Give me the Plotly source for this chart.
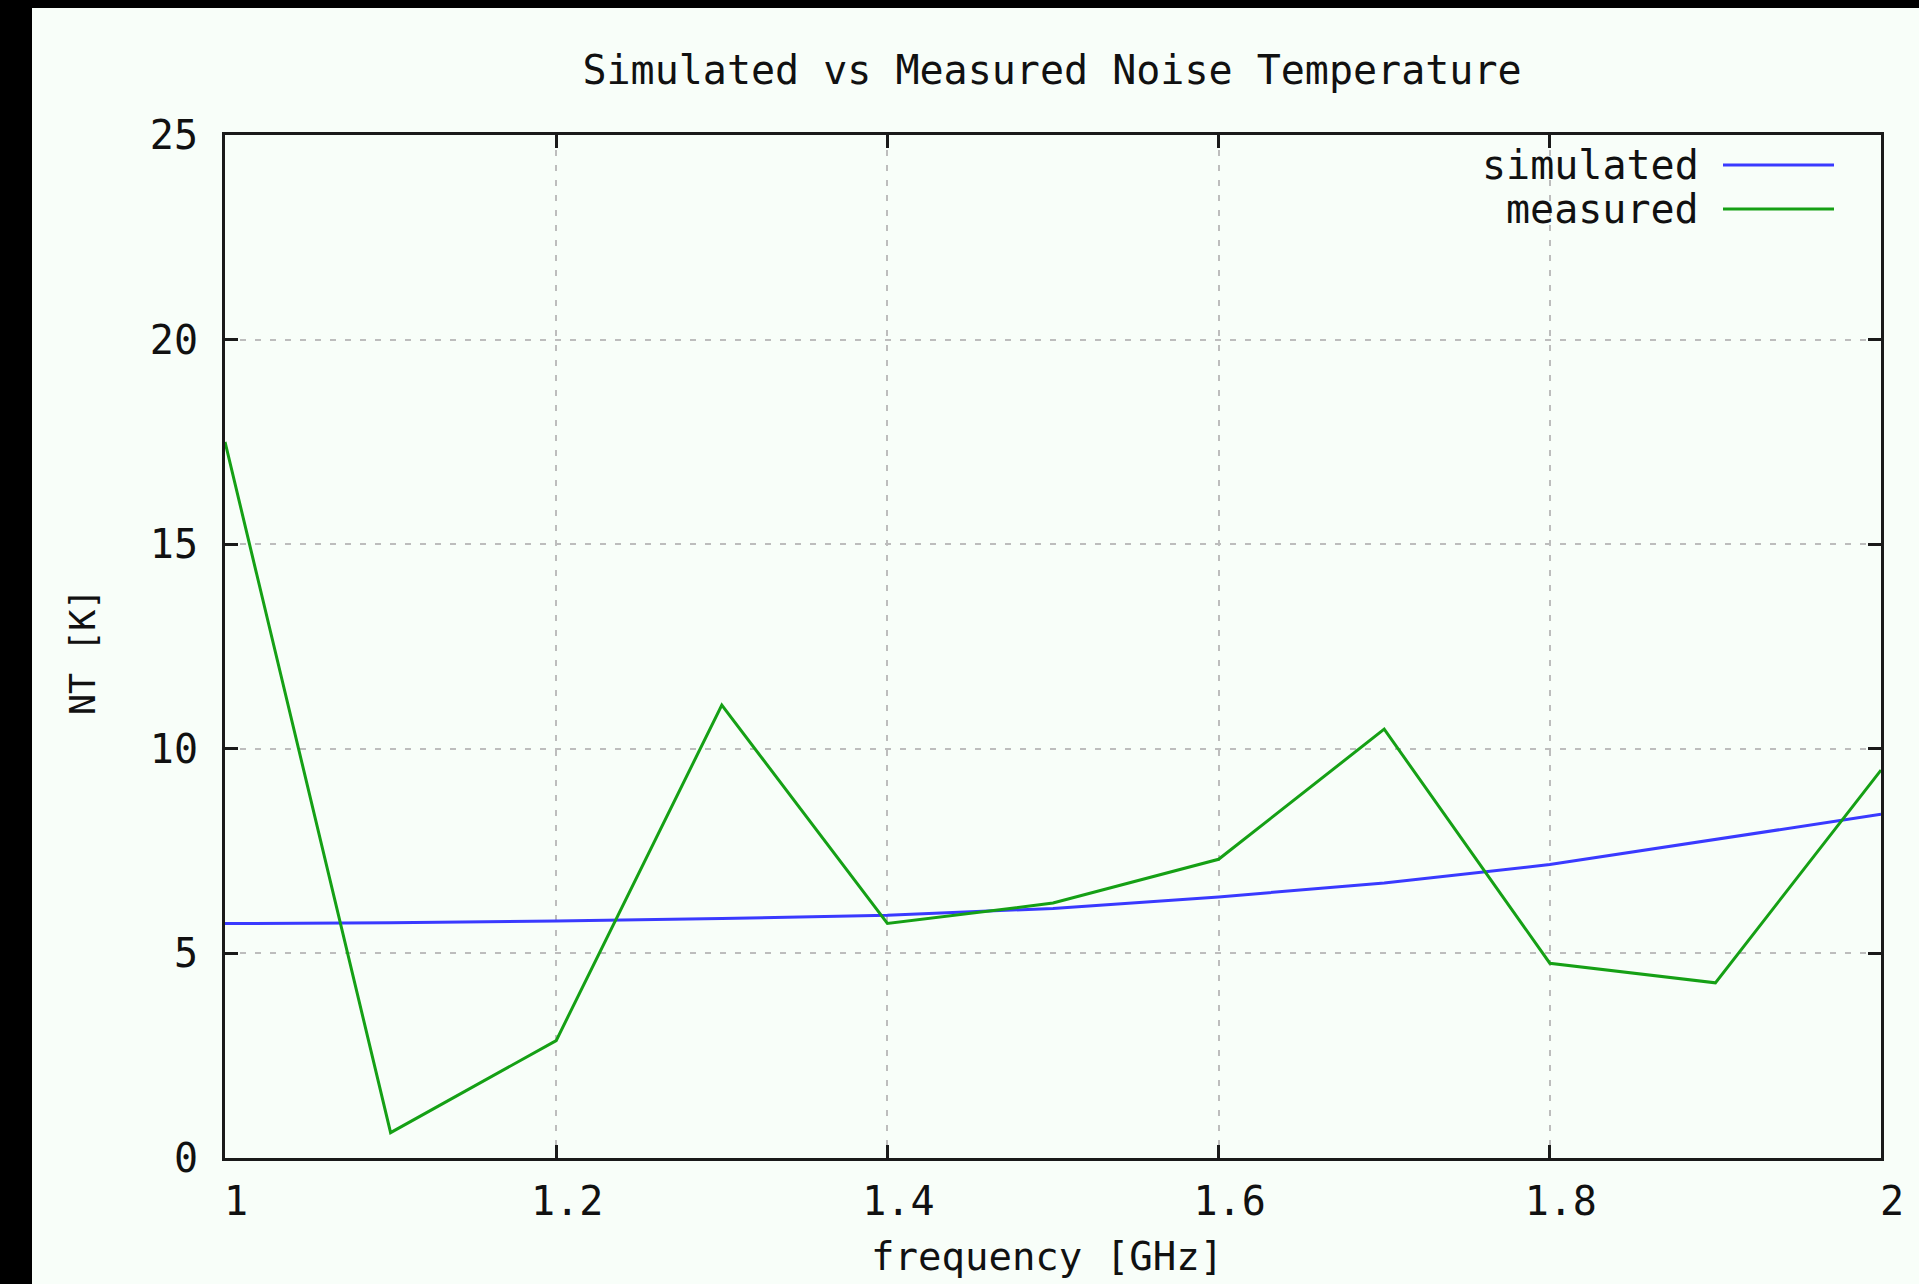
import plotly.graph_objects as go

# Frequency sweep in GHz
frequency = [1.0, 1.1, 1.2, 1.3, 1.4, 1.5, 1.6, 1.7, 1.8, 1.9, 2.0]

# Noise temperature in kelvin
simulated = [5.73, 5.75, 5.79, 5.85, 5.93, 6.10, 6.38, 6.72, 7.17, 7.78, 8.40]
measured = [17.5, 0.62, 2.87, 11.07, 5.73, 6.23, 7.30, 10.48, 4.76, 4.28, 9.48]

x_ticks = [1.0, 1.2, 1.4, 1.6, 1.8, 2.0]
x_tick_text = ["1", "1.2", "1.4", "1.6", "1.8", "2"]
y_ticks = [0, 5, 10, 15, 20, 25]
y_tick_text = ["0", "5", "10", "15", "20", "25"]

series_names = ["simulated", "measured"]
series_colors = ["#3a3aff", "#15a015"]

FONT = "DejaVu Sans Mono"
TEXT_SIZE = 40
TEXT_COLOR = "#111111"
BG = "#f8fef9"
W, H = 1919, 1284
M_L, M_R, M_T, M_B = 225, 38, 135, 126
PW, PH = W - M_L - M_R, H - M_T - M_B


def px_x(px):
    # page pixel -> paper x
    return (px - M_L) / PW


def px_y(py):
    # page pixel -> paper y
    return (H - M_B - py) / PH


fig = go.Figure()
for name, ys, color in zip(series_names, [simulated, measured], series_colors):
    fig.add_trace(go.Scatter(
        x=frequency, y=ys, name=name, mode="lines",
        line=dict(color=color, width=3),
        showlegend=False,
    ))

axis_common = dict(
    showline=True, linecolor="#1a1a1a", linewidth=3, mirror="ticks",
    ticks="inside", ticklen=13, tickwidth=2.5, tickcolor="#1a1a1a",
    showgrid=True, gridcolor="#bdbdbd", gridwidth=2, griddash="6px,9px",
    zeroline=False,
    tickfont=dict(family=FONT, size=TEXT_SIZE, color=TEXT_COLOR),
)

fig.update_xaxes(
    range=[1.0, 2.0], tickmode="array", tickvals=x_ticks, ticktext=x_tick_text,
    ticklabelstandoff=6, ticklabelshift=11, **axis_common,
)
fig.update_yaxes(
    range=[0, 25], tickmode="array", tickvals=y_ticks, ticktext=y_tick_text,
    ticklabelstandoff=16, **axis_common,
)

annotations = [
    dict(text="frequency [GHz]", x=px_x(1047), y=px_y(1256), xref="paper", yref="paper",
         xanchor="center", yanchor="middle", showarrow=False,
         font=dict(family=FONT, size=39, color=TEXT_COLOR)),
    dict(text="NT [K]", x=px_x(83), y=px_y(652), xref="paper", yref="paper",
         xanchor="center", yanchor="middle", showarrow=False, textangle=-90,
         font=dict(family=FONT, size=35, color=TEXT_COLOR)),
]

# Key in the upper right: right-aligned label followed by a line sample
shapes = []
key_rows = [165, 209]
for name, color, row in zip(series_names, series_colors, key_rows):
    annotations.append(dict(
        text=name, x=px_x(1701), y=px_y(row), xref="paper", yref="paper",
        xanchor="right", yanchor="middle", showarrow=False,
        font=dict(family=FONT, size=TEXT_SIZE, color=TEXT_COLOR),
    ))
    shapes.append(dict(
        type="line", xref="paper", yref="paper",
        x0=px_x(1723), x1=px_x(1834), y0=px_y(row), y1=px_y(row),
        line=dict(color=color, width=3),
    ))

# Dark frame strips along the left and top edges of the page
shapes.append(dict(type="rect", xref="paper", yref="paper",
                   x0=px_x(0), x1=px_x(32), y0=px_y(H), y1=px_y(0),
                   fillcolor="black", line=dict(width=0), layer="above"))
shapes.append(dict(type="rect", xref="paper", yref="paper",
                   x0=px_x(0), x1=px_x(W), y0=px_y(8), y1=px_y(0),
                   fillcolor="black", line=dict(width=0), layer="above"))

fig.update_layout(
    width=W, height=H,
    margin=dict(l=M_L, r=M_R, t=M_T, b=M_B),
    paper_bgcolor=BG, plot_bgcolor=BG,
    title=dict(text="Simulated vs Measured Noise Temperature",
               x=1052 / W, xanchor="center",
               y=1 - 70 / H, yanchor="middle",
               font=dict(family=FONT, size=TEXT_SIZE, color=TEXT_COLOR)),
    annotations=annotations,
    shapes=shapes,
    showlegend=False,
)

fig.write_html("out.html", config={"displayModeBar": False})
